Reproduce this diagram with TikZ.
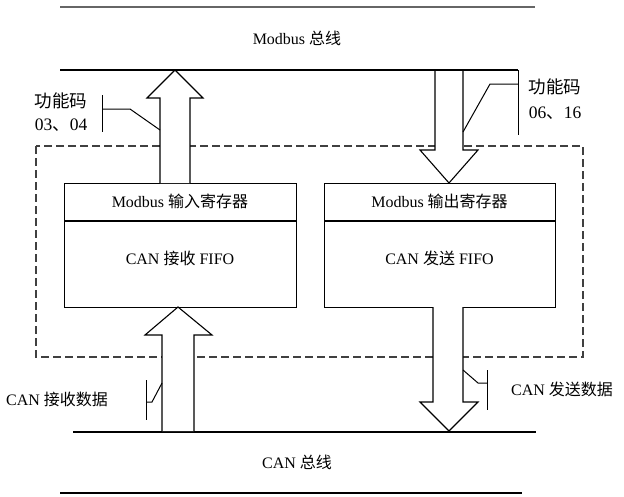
\documentclass[tikz,border=0pt]{standalone}
\usepackage{fontspec}
\setmainfont{Liberation Serif}
\newfontfamily\cjk{Noto Sans CJK SC}
\begin{document}
\begin{tikzpicture}[x=1pt,y=-1pt,
  txt/.style={inner sep=0pt, font=\fontsize{16}{18}\selectfont},
  lbl/.style={inner sep=0pt, font=\fontsize{17.5}{20}\selectfont},
  boxline/.style={draw=black, line width=1.1pt},
  bigarrow/.style={draw=black, fill=white, line width=1.1pt, line join=miter},
  callout/.style={draw=black, line width=1pt},
  busline/.style={draw=black, line width=1.6pt},
  dashbox/.style={draw=black!75, line width=1.1pt, dash pattern=on 8pt off 4pt}]
\useasboundingbox (0,0) rectangle (624,496);
\fill[white] (0,0) rectangle (624,496);
% bus lines
\draw[busline, draw=black!60] (60,7) -- (535,7);
\draw[busline] (60,70) -- (518,70);
\draw[busline, line width=2.4pt] (73,432) -- (536,432);
\draw[busline, line width=2.4pt] (60,493) -- (522,493);
\node[txt] (modbusbus) at (297,38) {Modbus {\cjk 总线}};
\node[txt] (canbus) at (297,462) {CAN {\cjk 总线}};
% dashed frame
\draw[dashbox] (36,146) rectangle (583,357);
% boxes
\node[boxline, fill=white, minimum width=232pt, minimum height=124pt, anchor=north west, inner sep=0pt] (inbox) at (64,183) {};
\node[boxline, fill=white, minimum width=231pt, minimum height=124pt, anchor=north west, inner sep=0pt] (outbox) at (324,183) {};
\draw[boxline] (64,221) -- (296,221);
\draw[boxline] (324,221) -- (555,221);
\node[txt] (inreg) at (180,201) {Modbus {\cjk 输入寄存器}};
\node[txt] (infifo) at (180,258) {CAN {\cjk 接收} FIFO};
\node[txt] (outreg) at (439.5,201) {Modbus {\cjk 输出寄存器}};
\node[txt] (outfifo) at (439.5,258) {CAN {\cjk 发送} FIFO};
% big arrows
\draw[bigarrow] (160,183) -- (160,98) -- (147,98) -- (175,70) -- (203,98) -- (190,98) -- (190,183);
\draw[bigarrow] (435,71) -- (435,150) -- (420,150) -- (449,183) -- (478,150) -- (463,150) -- (463,71);
\draw[bigarrow] (162,431) -- (162,335) -- (145,335) -- (178,307) -- (212,335) -- (194,335) -- (194,431);
\draw[bigarrow] (433,307) -- (433,402) -- (420,402) -- (449,431) -- (478,402) -- (463,402) -- (463,307);
% callouts
\draw[callout] (102,95) -- (102,132);
\draw[callout] (102,109) -- (130,109) -- (160,130);
\draw[callout] (518,70) -- (518,135);
\draw[callout] (518,84) -- (490,84) -- (463,132);
\draw[callout] (146,380) -- (146,420);
\draw[callout] (146,402) -- (152,402) -- (162,383);
\draw[callout] (463,370) -- (478,383) -- (487,383);
\draw[callout] (487,370) -- (487,410);
% labels
\node[lbl] (fc1) at (61,101) {\cjk 功能码};
\node[lbl] (fc1n) at (61,125) {03{\cjk 、}04};
\node[lbl] (fc2) at (555,87) {\cjk 功能码};
\node[lbl] (fc2n) at (555,113) {06{\cjk 、}16};
\node[txt] (canrx) at (57,399) {CAN {\cjk 接收数据}};
\node[txt] (cantx) at (562,389) {CAN {\cjk 发送数据}};
\end{tikzpicture}
\end{document}
